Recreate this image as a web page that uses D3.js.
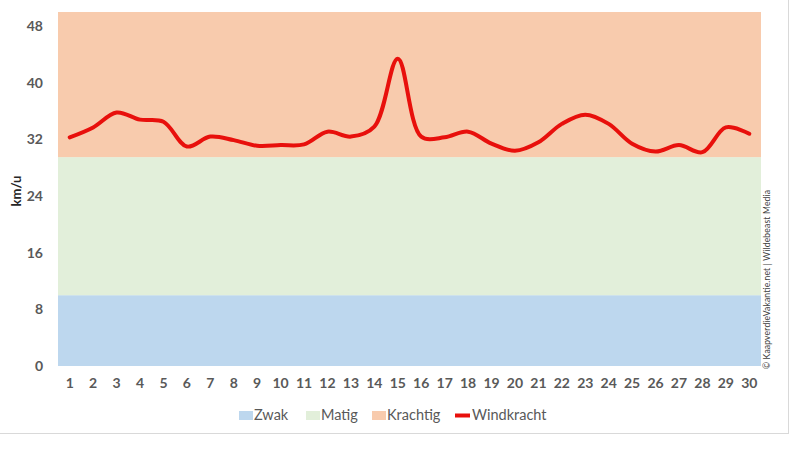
<!doctype html>
<html lang="nl">
<head>
  <meta charset="utf-8">
  <title>Windkracht</title>
  <style>
    body { margin: 0; background: #fff; }
    svg { display: block; }
    text { font-family: Lato, "Open Sans", sans-serif; }
  </style>
</head>
<body>
<svg id="chart" width="800" height="450"></svg>
<script src="https://cdn.jsdelivr.net/npm/d3@7"></script>
<script>
  // dagen van de maand
  var days = d3.range(1, 31).map(String);

  // windkracht in km/u per dag
  var windkracht = [32.3, 33.7, 35.8, 34.8, 34.5, 31.0, 32.4, 31.9, 31.1, 31.2,
                    31.3, 33.1, 32.4, 33.8, 43.4, 32.4, 32.3, 33.1, 31.4, 30.4,
                    31.6, 34.2, 35.5, 34.2, 31.4, 30.3, 31.2, 30.2, 33.7, 32.8];

  // achtergrondzones (km/u)
  var zoneNames = ["Zwak", "Matig", "Krachtig"];
  var zoneFrom = [0, 10, 29.5];
  var zoneTo = [10, 29.5, 50];
  var zoneColors = ["#bdd7ee", "#e2efda", "#f8cbad"];

  var yTicks = [0, 8, 16, 24, 32, 40, 48];

  var svg = d3.select("#chart");

  var x = d3.scaleBand().domain(days).range([58, 761]).padding(0);
  var y = d3.scaleLinear().domain([0, 50]).range([366, 12]);

  // kader
  svg.append("line").attr("x1", 0).attr("x2", 788).attr("y1", 433.5).attr("y2", 433.5)
    .attr("stroke", "#d9d9d9");
  svg.append("line").attr("x1", 788.5).attr("x2", 788.5).attr("y1", 0).attr("y2", 434)
    .attr("stroke", "#d9d9d9");

  // zones
  svg.selectAll("rect.zone")
    .data(zoneNames)
    .enter().append("rect")
    .attr("class", "zone")
    .attr("x", x.range()[0])
    .attr("width", x.range()[1] - x.range()[0])
    .attr("y", function(d, i) { return y(zoneTo[i]); })
    .attr("height", function(d, i) { return y(zoneFrom[i]) - y(zoneTo[i]); })
    .attr("fill", function(d, i) { return zoneColors[i]; });

  // y-as
  var yAxis = svg.append("g")
    .attr("transform", "translate(50,0)")
    .call(d3.axisLeft(y).tickValues(yTicks).tickSize(0).tickPadding(7));
  yAxis.select(".domain").remove();
  yAxis.selectAll("text")
    .attr("fill", "#595959").style("font-size", "14px").style("font-weight", "bold");

  // x-as
  var xAxis = svg.append("g")
    .attr("transform", "translate(0,366)")
    .call(d3.axisBottom(x).tickSize(0).tickPadding(12));
  xAxis.select(".domain").remove();
  xAxis.selectAll("text")
    .attr("fill", "#595959").style("font-size", "14px").style("font-weight", "bold");

  // as-titel
  svg.append("text")
    .attr("transform", "translate(21,191) rotate(-90)")
    .attr("text-anchor", "middle")
    .attr("fill", "#262626")
    .style("font-size", "13px").style("font-weight", "bold")
    .text("km/u");

  // lijn
  var line = d3.line()
    .x(function(d, i) { return x(days[i]) + x.bandwidth() / 2; })
    .y(function(d) { return y(d); })
    .curve(d3.curveCatmullRom.alpha(0.5));

  svg.append("path")
    .datum(windkracht)
    .attr("fill", "none")
    .attr("stroke", "#e8100c")
    .attr("stroke-width", 4)
    .attr("stroke-linejoin", "round")
    .attr("stroke-linecap", "round")
    .attr("d", line);

  // copyright
  svg.append("text")
    .attr("transform", "translate(770,369) rotate(-90)")
    .attr("fill", "#404040")
    .attr("textLength", 179)
    .style("font-size", "8.5px")
    .text("\u00a9 KaapverdieVakantie.net | Wildebeast Media");

  // legenda
  var legendX = [239, 306, 372, 455];
  var legendNames = zoneNames.concat(["Windkracht"]);
  var legend = svg.append("g");
  legendNames.forEach(function(name, i) {
    if (i < 3) {
      legend.append("rect")
        .attr("x", legendX[i]).attr("y", 411)
        .attr("width", 14).attr("height", 9)
        .attr("fill", zoneColors[i]);
    } else {
      legend.append("line")
        .attr("x1", legendX[i]).attr("x2", legendX[i] + 15)
        .attr("y1", 415.5).attr("y2", 415.5)
        .attr("stroke", "#e8100c").attr("stroke-width", 4);
    }
    legend.append("text")
      .attr("x", legendX[i] + (i < 3 ? 15 : 17))
      .attr("y", 420)
      .attr("fill", "#595959")
      .style("font-size", "14.5px")
      .text(name);
  });
</script>
</body>
</html>
